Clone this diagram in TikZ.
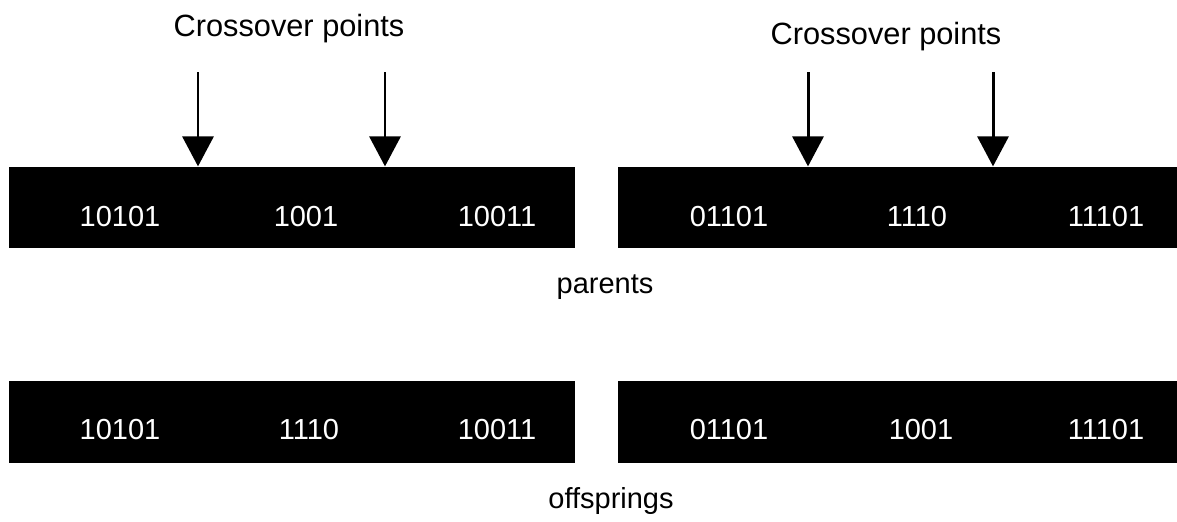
\documentclass[tikz,border=0pt]{standalone}
\usepackage{fontspec}
\setmainfont{Liberation Sans}
\usetikzlibrary{arrows.meta}
\begin{document}
\begin{tikzpicture}[x=0.02cm,y=-0.02cm]
        \tikzstyle{chrom}=[fill=black, inner sep=0pt, minimum height=1.63cm]
        \tikzstyle{bits}=[text=white, inner sep=0pt, font=\fontsize{16.5}{20}\selectfont]
        \tikzstyle{lbl}=[anchor=base, inner sep=0pt, font=\fontsize{16.5}{20}\selectfont]
        \tikzstyle{cut}=[line width=1.7pt, -{Triangle[length=0.6cm, width=0.62cm]}]

        \useasboundingbox (0,0) rectangle (1177,521);

        % parents
        \node[chrom, minimum width=11.32cm] (pl) at (292,207.5) {};
        \node[chrom, minimum width=11.18cm] (pr) at (897.5,207.5) {};
        \node[bits] (pl1) at (120,217) {10101};
        \node[bits] (pl2) at (306,217) {1001};
        \node[bits] (pl3) at (497,217) {10011};
        \node[bits] (pr1) at (729,217) {01101};
        \node[bits] (pr2) at (917,217) {1110};
        \node[bits] (pr3) at (1106,217) {11101};

        % offsprings
        \node[chrom, minimum width=11.32cm] (ol) at (292,422) {};
        \node[chrom, minimum width=11.18cm] (or) at (897.5,422) {};
        \node[bits] (ol1) at (120,430) {10101};
        \node[bits] (ol2) at (309,430) {1110};
        \node[bits] (ol3) at (497,430) {10011};
        \node[bits] (or1) at (729,430) {01101};
        \node[bits] (or2) at (921,430) {1001};
        \node[bits] (or3) at (1106,430) {11101};

        \node[lbl] (par) at (605,293) {parents};
        \node[lbl] (off) at (611,508) {offsprings};

        % crossover points
        \node[lbl, font=\fontsize{17.5}{21}\selectfont] (cl) at (289,36) {Crossover points};
        \node[lbl, font=\fontsize{17.5}{21}\selectfont] (cr) at (886,44) {Crossover points};
        \coordinate (c1) at (198,72);
        \coordinate (c2) at (385,72);
        \coordinate (c3) at (808,72);
        \coordinate (c4) at (993,72);
        \draw[cut] (c1) -- (c1 |- pl.north);
        \draw[cut] (c2) -- (c2 |- pl.north);
        \draw[cut] (c3) -- (c3 |- pr.north);
        \draw[cut] (c4) -- (c4 |- pr.north);
    \end{tikzpicture}
\end{document}
